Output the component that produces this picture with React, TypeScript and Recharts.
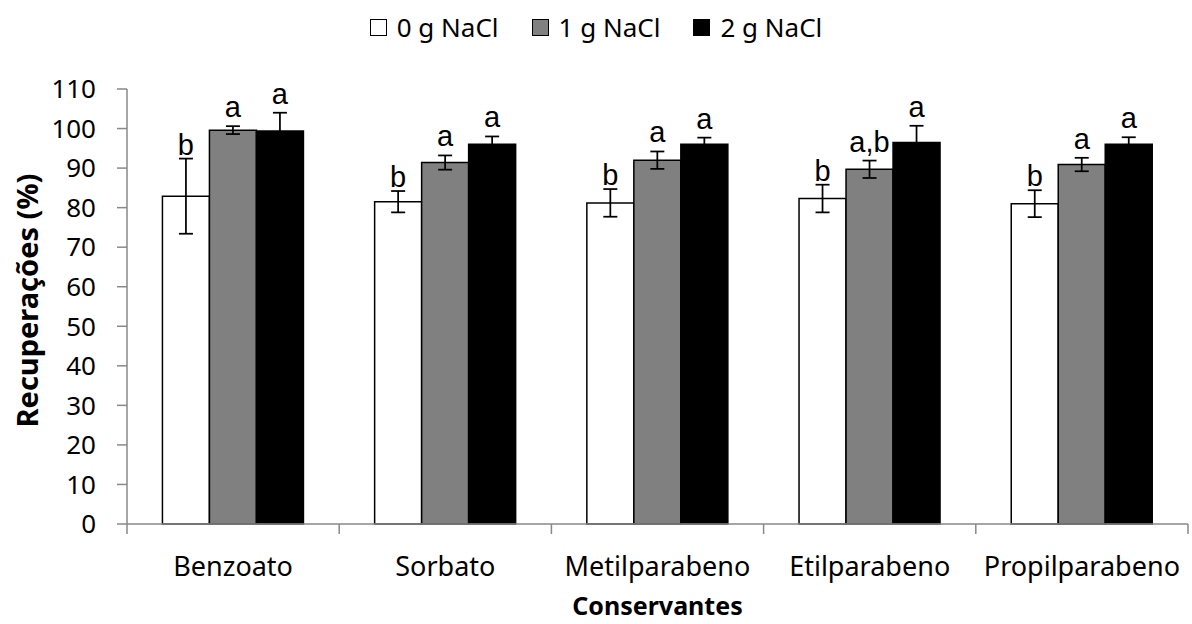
import React from "react"
import { BarChart, Bar, XAxis, YAxis, ErrorBar, LabelList, Legend } from "recharts"

// recoveries (%) per preservative and NaCl amount, with std. deviation and letters
const categories = ["Benzoato", "Sorbato", "Metilparabeno", "Etilparabeno", "Propilparabeno"]

const recovery0 = [82.9, 81.5, 81.2, 82.3, 81.0]
const error0 = [9.5, 2.7, 3.5, 3.5, 3.4]
const letters0 = ["b", "b", "b", "b", "b"]

const recovery1 = [99.6, 91.4, 92.0, 89.7, 90.9]
const error1 = [1.0, 1.8, 2.2, 2.2, 1.7]
const letters1 = ["a", "a", "a", "a,b", "a"]

const recovery2 = [99.4, 96.0, 96.0, 96.5, 96.0]
const error2 = [4.6, 2.0, 1.7, 4.2, 1.8]
const letters2 = ["a", "a", "a", "a", "a"]

const yTicks = [0, 10, 20, 30, 40, 50, 60, 70, 80, 90, 100, 110]

const data = categories.map((name, i) => ({
  name,
  r0: recovery0[i],
  e0: error0[i],
  l0: letters0[i],
  r1: recovery1[i],
  e1: error1[i],
  l1: letters1[i],
  r2: recovery2[i],
  e2: error2[i],
  l2: letters2[i],
}))

const series = [
  { key: "r0", err: "e0", letters: "l0", name: "0 g NaCl", fill: "#FFFFFF", gap: 4 },
  { key: "r1", err: "e1", letters: "l1", name: "1 g NaCl", fill: "#808080", gap: 9 },
  { key: "r2", err: "e2", letters: "l2", name: "2 g NaCl", fill: "#000000", gap: 9 },
]

const FONT = "'Noto Sans', 'Open Sans', sans-serif"
const AXIS = "#898989"

// letter sits above the top of the error bar
const letterLabel = (valueKey: string, errKey: string, gap: number) => (props: any) => {
  const { x, y, width, height, value, index } = props
  const row: any = data[index]
  const pxPerUnit = Number(height) / row[valueKey]
  const top = Number(y) - row[errKey] * pxPerUnit - gap
  return (
    <text
      x={Number(x) + Number(width) / 2}
      y={top}
      textAnchor="middle"
      fontFamily="'Liberation Sans', Arial, sans-serif"
      fontSize={29}
      fill="#000"
    >
      {value}
    </text>
  )
}

// category label plus tick marks on the category boundaries
const CategoryTick = (props: any) => {
  const { x, y, payload, index, visibleTicksCount } = props
  const half = payload.offset || 0
  const axisY = y - 33
  const last = index === (visibleTicksCount ?? categories.length) - 1
  return (
    <g>
      <line x1={x - half} y1={axisY} x2={x - half} y2={axisY + 10} stroke={AXIS} strokeWidth={1.5} />
      {last && <line x1={x + half} y1={axisY} x2={x + half} y2={axisY + 10} stroke={AXIS} strokeWidth={1.5} />}
      <text x={x} y={y} dy="0.71em" textAnchor="middle" fontFamily={FONT} fontSize={27} fill="#000">
        {payload.value}
      </text>
    </g>
  )
}

const LegendContent = () => (
  <div
    style={{
      display: "flex",
      justifyContent: "center",
      alignItems: "center",
      fontFamily: FONT,
      fontSize: 26,
      color: "#000",
    }}
  >
    {series.map((s, i) => (
      <div key={s.key} style={{ display: "flex", alignItems: "center", marginLeft: i ? 33 : 0 }}>
        <span
          style={{
            display: "inline-block",
            width: 15,
            height: 15,
            background: s.fill,
            border: "1px solid #000",
            marginRight: 10,
          }}
        />
        <span>{s.name}</span>
      </div>
    ))}
  </div>
)

export default function App() {
  return (
    <div style={{ position: "absolute", left: 0, top: 0, background: "#fff" }}>
      <BarChart
        width={1192}
        height={624}
        data={data}
        margin={{ top: 89, right: 4, left: 0, bottom: 0 }}
        barCategoryGap="16.7%"
        barGap={0}
      >
        <XAxis
          dataKey="name"
          height={100}
          tickLine={false}
          tickSize={10}
          tickMargin={23}
          axisLine={{ stroke: AXIS, strokeWidth: 1.5 }}
          tick={<CategoryTick />}
          interval={0}
          label={(p: any) => {
            const vb = p.viewBox
            return (
              <text
                x={vb.x + vb.width / 2}
                y={vb.y + 91}
                textAnchor="middle"
                fontFamily={FONT}
                fontWeight="bold"
                fontSize={25}
                fill="#000"
              >
                Conservantes
              </text>
            )
          }}
        />
        <YAxis
          width={127}
          domain={[0, 110]}
          ticks={yTicks}
          interval={0}
          tickSize={10}
          tickMargin={21}
          axisLine={{ stroke: AXIS, strokeWidth: 1.5 }}
          tickLine={{ stroke: AXIS, strokeWidth: 1.5 }}
          tick={{ fill: "#000", fontSize: 26, fontFamily: FONT }}
          label={(p: any) => {
            const vb = p.viewBox
            const cx = vb.x + 26
            const cy = vb.y + vb.height / 2 - 6
            return (
              <text
                x={cx}
                y={cy}
                transform={`rotate(-90, ${cx}, ${cy})`}
                textAnchor="middle"
                dominantBaseline="central"
                fontFamily={FONT}
                fontWeight="bold"
                fontSize={29}
                fill="#000"
              >
                Recuperações (%)
              </text>
            )
          }}
        />
        <Legend
          verticalAlign="middle"
          content={<LegendContent />}
          wrapperStyle={{ top: 9, left: 0, width: 1192 }}
        />
        {series.map((s) => (
          <Bar
            key={s.key}
            dataKey={s.key}
            name={s.name}
            fill={s.fill}
            stroke="#000"
            strokeWidth={1.5}
            isAnimationActive={false}
          >
            <ErrorBar dataKey={s.err} width={7} stroke="#000" strokeWidth={1.75} direction="y" />
            <LabelList dataKey={s.letters} content={letterLabel(s.key, s.err, s.gap)} />
          </Bar>
        ))}
      </BarChart>
    </div>
  )
}
